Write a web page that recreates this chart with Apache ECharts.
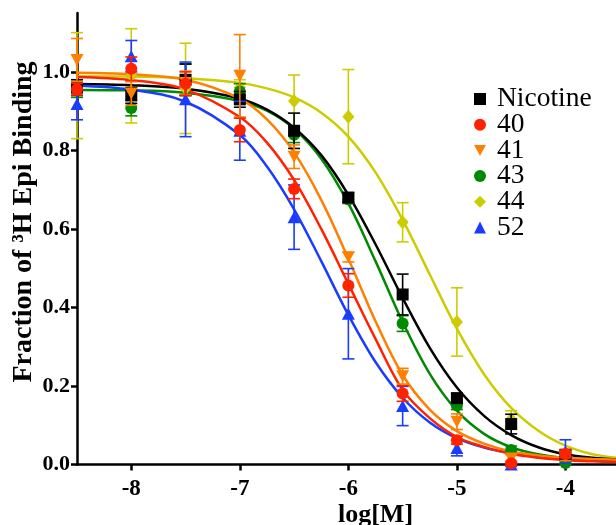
<!DOCTYPE html>
<html>
<head>
<meta charset="utf-8">
<title>Fraction of 3H Epi Binding</title>
<script src="https://cdn.jsdelivr.net/npm/echarts@6/dist/echarts.min.js"></script>
<style>
	html,body{margin:0;padding:0;background:#fff;}
	#main{width:616px;height:525px;}
</style>
</head>
<body>
<div id="main"></div>
<script>
// log concentration of the data points
var logM = [-8.5, -8, -7.5, -7, -6.5, -6, -5.5, -5, -4.5, -4];

// mean values + error
var nicotine = [0.96, 0.94, 0.98, 0.93, 0.85, 0.68, 0.433, 0.169, 0.103, 0.025];
var nicotineErr = [0.02, 0.02, 0.04, 0.02, 0.045, 0.012, 0.052, 0.012, 0.025, 0.01];
var c40 = [0.956, 1.008, 0.97, 0.852, 0.702, 0.456, 0.181, 0.062, 0.003, 0.027];
var c40Err = [0.015, 0.03, 0.03, 0.03, 0.025, 0.03, 0.02, 0.01, 0.005, 0.01];
var c41 = [1.03, 0.945, 0.972, 0.99, 0.784, 0.528, 0.225, 0.109, 0.015, 0.02];
var c41Err = [0.055, 0.03, 0.03, 0.105, 0.03, 0.012, 0.02, 0.02, 0.01, 0.01];
var c43 = [0.955, 0.908, 0.98, 0.95, 0.84, 0.675, 0.359, 0.15, 0.037, 0.004];
var c43Err = [0.02, 0.02, 0.04, 0.02, 0.02, 0.01, 0.02, 0.01, 0.01, 0.005];
var c44 = [0.965, 0.99, 0.958, 0.96, 0.926, 0.886, 0.617, 0.363, 0.115, 0.02];
var c44Err = [0.135, 0.12, 0.115, 0.02, 0.066, 0.12, 0.05, 0.087, 0.022, 0.01];
var c52 = [0.918, 1.04, 0.93, 0.85, 0.63, 0.384, 0.149, 0.042, 0.0, 0.033];
var c52Err = [0.04, 0.04, 0.095, 0.075, 0.082, 0.115, 0.05, 0.02, 0.005, 0.03];

// fitted curves, read along the x grid
var fitX = [-8.5, -8, -7.5, -7, -6.75, -6.5, -6.25, -6, -5.75, -5.5, -5.25, -5, -4.75, -4.5, -4.25, -4, -3.75, -3.5];
var nicotineFit = [0.969, 0.966, 0.957, 0.932, 0.904, 0.858, 0.788, 0.687, 0.561, 0.424, 0.297, 0.196, 0.124, 0.075, 0.044, 0.026, 0.017, 0.012];
var fit40 = [0.987, 0.979, 0.955, 0.885, 0.82, 0.725, 0.6, 0.46, 0.32, 0.19, 0.118, 0.07, 0.045, 0.027, 0.017, 0.011, 0.008, 0.006];
var fit41 = [0.998, 0.994, 0.98, 0.932, 0.879, 0.795, 0.674, 0.524, 0.365, 0.228, 0.14, 0.085, 0.053, 0.033, 0.023, 0.017, 0.014, 0.012];
var fit43 = [0.954, 0.953, 0.947, 0.926, 0.901, 0.855, 0.779, 0.665, 0.518, 0.363, 0.231, 0.137, 0.078, 0.044, 0.026, 0.016, 0.011, 0.008];
var fit44 = [0.989, 0.988, 0.984, 0.972, 0.958, 0.935, 0.896, 0.835, 0.744, 0.623, 0.484, 0.346, 0.23, 0.144, 0.086, 0.048, 0.026, 0.016];
var fit52 = [0.965, 0.955, 0.924, 0.839, 0.759, 0.65, 0.518, 0.381, 0.261, 0.17, 0.107, 0.067, 0.043, 0.029, 0.021, 0.016, 0.013, 0.012];

var xTicks = [-8, -7, -6, -5, -4];
var yTicks = [0, 0.2, 0.4, 0.6, 0.8, 1.0];

var downTri = 'path://M0,0L10,0L5,9Z';
var serif = 'Liberation Serif';

function pairs(xs, ys){
	var out = [];
	for(var i=0;i<xs.length;i++){
		out.push([xs[i], ys[i]]);
	}
	return out;
}

function errs(xs, ys, es){
	var out = [];
	for(var i=0;i<xs.length;i++){
		out.push([xs[i], ys[i]-es[i], ys[i]+es[i]]);
	}
	return out;
}

function errorBar(color){
	return function(params, api){
		var x = api.value(0);
		var lo = api.coord([x, api.value(1)]);
		var hi = api.coord([x, api.value(2)]);
		var w = 6;
		var st = {stroke: color, lineWidth: 1.6};
		return {
			type: 'group',
			children: [
				{type:'line', shape:{x1:lo[0], y1:lo[1], x2:hi[0], y2:hi[1]}, style:st},
				{type:'line', shape:{x1:hi[0]-w, y1:hi[1], x2:hi[0]+w, y2:hi[1]}, style:st},
				{type:'line', shape:{x1:lo[0]-w, y1:lo[1], x2:lo[0]+w, y2:lo[1]}, style:st}
			]
		};
	};
}

// drawn bottom -> top
var sets = [
	{name:'44', color:'#cccc00', pts:c44, err:c44Err, fit:fit44, symbol:'diamond', size:[12,14]},
	{name:'43', color:'#008a00', pts:c43, err:c43Err, fit:fit43, symbol:'circle', size:12},
	{name:'Nicotine', color:'#000000', pts:nicotine, err:nicotineErr, fit:nicotineFit, symbol:'rect', size:12},
	{name:'52', color:'#1a3cff', pts:c52, err:c52Err, fit:fit52, symbol:'triangle', size:[13,12]},
	{name:'41', color:'#ff7f00', pts:c41, err:c41Err, fit:fit41, symbol:downTri, size:[13,12]},
	{name:'40', color:'#ff2200', pts:c40, err:c40Err, fit:fit40, symbol:'circle', size:12}
];

var series = [];
for(var k=0;k<sets.length;k++){
	var s = sets[k];
	series.push({
		name: s.name + ' fit',
		type: 'line',
		data: pairs(fitX, s.fit),
		smooth: 0.35,
		showSymbol: false,
		silent: true,
		z: 2,
		lineStyle: {color: s.color, width: 2.5}
	});
}
for(var k=0;k<sets.length;k++){
	var s = sets[k];
	series.push({
		name: s.name + ' err',
		type: 'custom',
		data: errs(logM, s.pts, s.err),
		encode: {x: 0, y: [1, 2]},
		renderItem: errorBar(s.color),
		silent: true,
		z: 3 + k
	});
	series.push({
		name: s.name,
		type: 'scatter',
		data: pairs(logM, s.pts),
		symbol: s.symbol,
		symbolSize: s.size,
		itemStyle: {color: s.color, opacity: 1},
		z: 3 + k
	});
}

var chart = echarts.init(document.getElementById('main'));
var option = {
	animation: false,
	backgroundColor: '#ffffff',
	grid: {
		left: 77,
		right: -58,
		top: 13,
		bottom: 60.5,
		containLabel: false,
		outerBoundsMode: 'none'
	},
	legend: {
		orient: 'vertical',
		left: 474,
		top: 85,
		padding: 0,
		itemWidth: 12,
		itemHeight: 12,
		itemGap: -2.3,
		selectedMode: false,
		textStyle: {
			fontFamily: serif,
			fontSize: 27.5,
			lineHeight: 25.5,
			color: '#000',
			padding: [0, 0, 0, 6]
		},
		data: [
			{name:'Nicotine', icon:'rect', itemStyle:{color:'#000000'}},
			{name:'40', icon:'circle', itemStyle:{color:'#ff2200'}},
			{name:'41', icon:downTri, itemStyle:{color:'#ff7f00'}},
			{name:'43', icon:'circle', itemStyle:{color:'#008a00'}},
			{name:'44', icon:'diamond', itemStyle:{color:'#cccc00'}},
			{name:'52', icon:'triangle', itemStyle:{color:'#1a3cff'}}
		]
	},
	xAxis: {
		type: 'value',
		min: -8.5,
		max: -3,
		name: 'log[M]',
		nameLocation: 'middle',
		nameGap: 38,
		nameMoveOverlap: false,
		nameTextStyle: {fontFamily: serif, fontWeight: 'bold', fontSize: 26, color: '#000'},
		axisLine: {onZero: false, lineStyle: {color: '#000', width: 2.5}},
		axisTick: {show: true, length: 6, customValues: xTicks, lineStyle: {color: '#000', width: 2.5}},
		axisLabel: {customValues: xTicks, margin: 13, fontFamily: serif, fontWeight: 'bold', fontSize: 23, color: '#000'},
		splitLine: {show: false}
	},
	yAxis: {
		type: 'value',
		min: 0,
		max: 1.15,
		axisLine: {onZero: false, lineStyle: {color: '#000', width: 2.5}},
		axisTick: {show: true, length: 6, customValues: yTicks, lineStyle: {color: '#000', width: 2.5}},
		axisLabel: {
			customValues: yTicks,
			margin: 7,
			fontFamily: serif,
			fontWeight: 'bold',
			fontSize: 22,
			color: '#000',
			formatter: function(v){ return v.toFixed(1); }
		},
		splitLine: {show: false}
	},
	graphic: [
		{
			type: 'text',
			x: 24,
			y: 222,
			rotation: Math.PI / 2,
			style: {
				text: 'Fraction of ³H Epi Binding',
				font: 'bold 28px "Liberation Serif"',
				fill: '#000',
				align: 'center',
				verticalAlign: 'middle'
			}
		}
	],
	series: series
};
chart.setOption(option);
</script>
</body>
</html>
